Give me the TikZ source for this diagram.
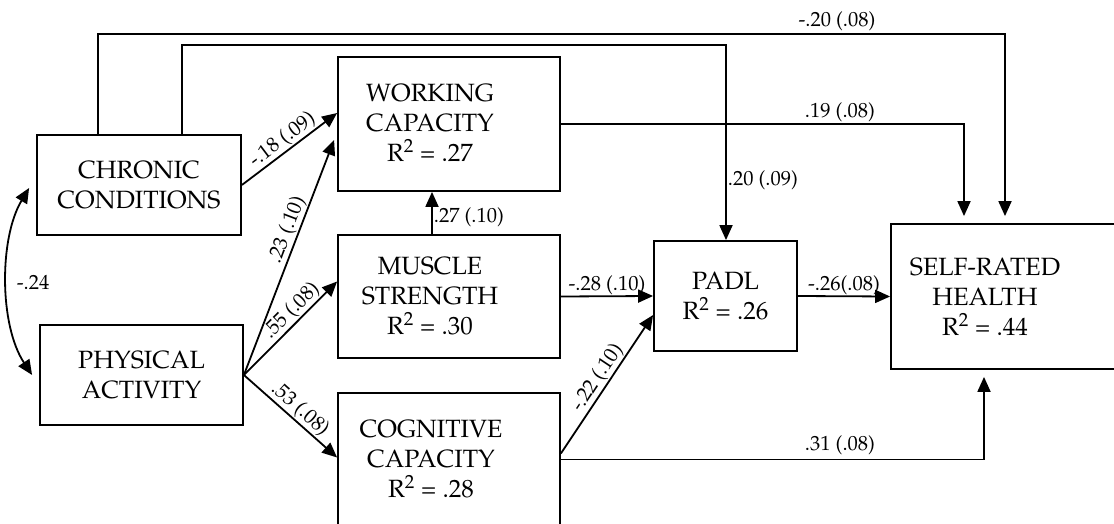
\documentclass[tikz,border=0pt]{standalone}
\usepackage[T1]{fontenc}
\usepackage{mathpazo}
\usetikzlibrary{arrows.meta,calc,positioning}
\newcommand{\boxfont}{\fontsize{25}{30}\selectfont}
\newcommand{\coeffont}{\fontsize{20.5}{23}\selectfont}
\tikzset{
  block/.style={draw,rectangle,inner sep=0pt},
  blocktext/.style={align=center,font=\boxfont,inner sep=0pt},
  coef/.style={font=\coeffont,inner sep=1pt}
}

\begin{document}
\begin{tikzpicture}[x=1pt,y=-1pt,>={Triangle[length=15pt,width=13pt]},line width=1.8pt]
  \clip (0,0) rectangle (1114,524);

  \node[block,minimum width=204pt,minimum height=100pt,blocktext] (chron) at (139,185) {CHRONIC\\CONDITIONS};
  \node[block,minimum width=203pt,minimum height=100pt,blocktext] (phys) at (141.5,375) {PHYSICAL\\ACTIVITY};
  \node[block,minimum width=222pt,minimum height=134pt] (work) at (449,124) {};
  \node[block,minimum width=222pt,minimum height=123pt] (musc) at (449,296.5) {};
  \node[block,minimum width=222pt,minimum height=133pt] (cogn) at (449,459.5) {};
  \node[block,minimum width=143pt,minimum height=110pt,blocktext] (padl) at (725.5,296) {PADL\\R\textsuperscript{2} = .26};
  \node[block,minimum width=226pt,minimum height=145pt] (self) at (1004,296.5) {};

  \node[blocktext] (work-t) at (430,123) {WORKING\\CAPACITY\\R\textsuperscript{2} = .27};
  \node[blocktext] (musc-t) at (430,296) {MUSCLE\\STRENGTH\\R\textsuperscript{2} = .30};
  \node[blocktext] (cogn-t) at (431,459) {COGNITIVE\\CAPACITY\\R\textsuperscript{2} = .28};
  \node[blocktext] (self-t) at (985,296.5) {SELF-RATED\\HEALTH\\R\textsuperscript{2} = .44};

  % bends of the long paths
  \coordinate (t1) at (98,34);
  \coordinate (t1e) at (1005,34);
  \coordinate (t2) at (182,45);
  \coordinate (t2e) at (726,45);
  \coordinate (d1) at (964,0);
  \coordinate (d2) at (984,0);
  \coordinate (m1) at (432,0);

  \draw[->,shorten >=7pt] (chron.north -| t1) -- (t1) -- (t1e) -- (self.north -| t1e);
  \draw[->] (chron.north -| t2) -- (t2) -- (t2e) -- (padl.north -| t2e);
  \draw[->,shorten >=7pt] (work.east) -| (self.north -| d1);
  \draw[->] (musc.north -| m1) -- (work.south -| m1);
  \draw[->,shorten >=7pt] (cogn.east) -| (self.south -| d2);

  \draw[->] (chron.east) -- ($(work.west)+(0,-11)$) node[coef,midway,sloped,above] (l18) {-.18 (.09)};
  \draw[->] (phys.east) -- ($(work.west)+(-3,16)$) node[coef,pos=0.6,sloped,above] (l23) {.23 (.10)};
  \draw[->] (phys.east) -- ($(musc.west)+(0,-15)$) node[coef,pos=0.6,sloped,above] (l55) {.55 (.08)};
  \draw[->] (phys.east) -- ($(cogn.west)+(0,-2)$) node[coef,pos=0.52,sloped,above] (l53) {.53 (.08)};
  \draw[->] (musc.east) -- (padl.west) node[coef,midway,above] (l28) {-.28 (.10)};
  \draw[->] ($(cogn.east)+(0,-6)$) -- ($(padl.west)+(0,19)$) node[coef,midway,sloped,above] (l22) {-.22 (.10)};
  \draw[->] (padl.east) -- (self.west) node[coef,midway,above] (l26) {-.26(.08)};
  \draw[<->] ($(chron.west)+(-7,3)$) .. controls +(-30,50) and +(-33,-50) .. ($(phys.west)+(-7,0)$);

  \node[coef] (l20a) at (837,21) {-.20 (.08)};
  \node[coef] (l19) at (840,112) {.19 (.08)};
  \node[coef,right] (l20b) at (726,180) {.20 (.09)};
  \node[coef,right] (l27) at (432,217) {.27 (.10)};
  \node[coef] (l31) at (840,445) {.31 (.08)};
  \node[coef,right] (l24) at (15,282) {-.24};
\end{tikzpicture}
\end{document}
